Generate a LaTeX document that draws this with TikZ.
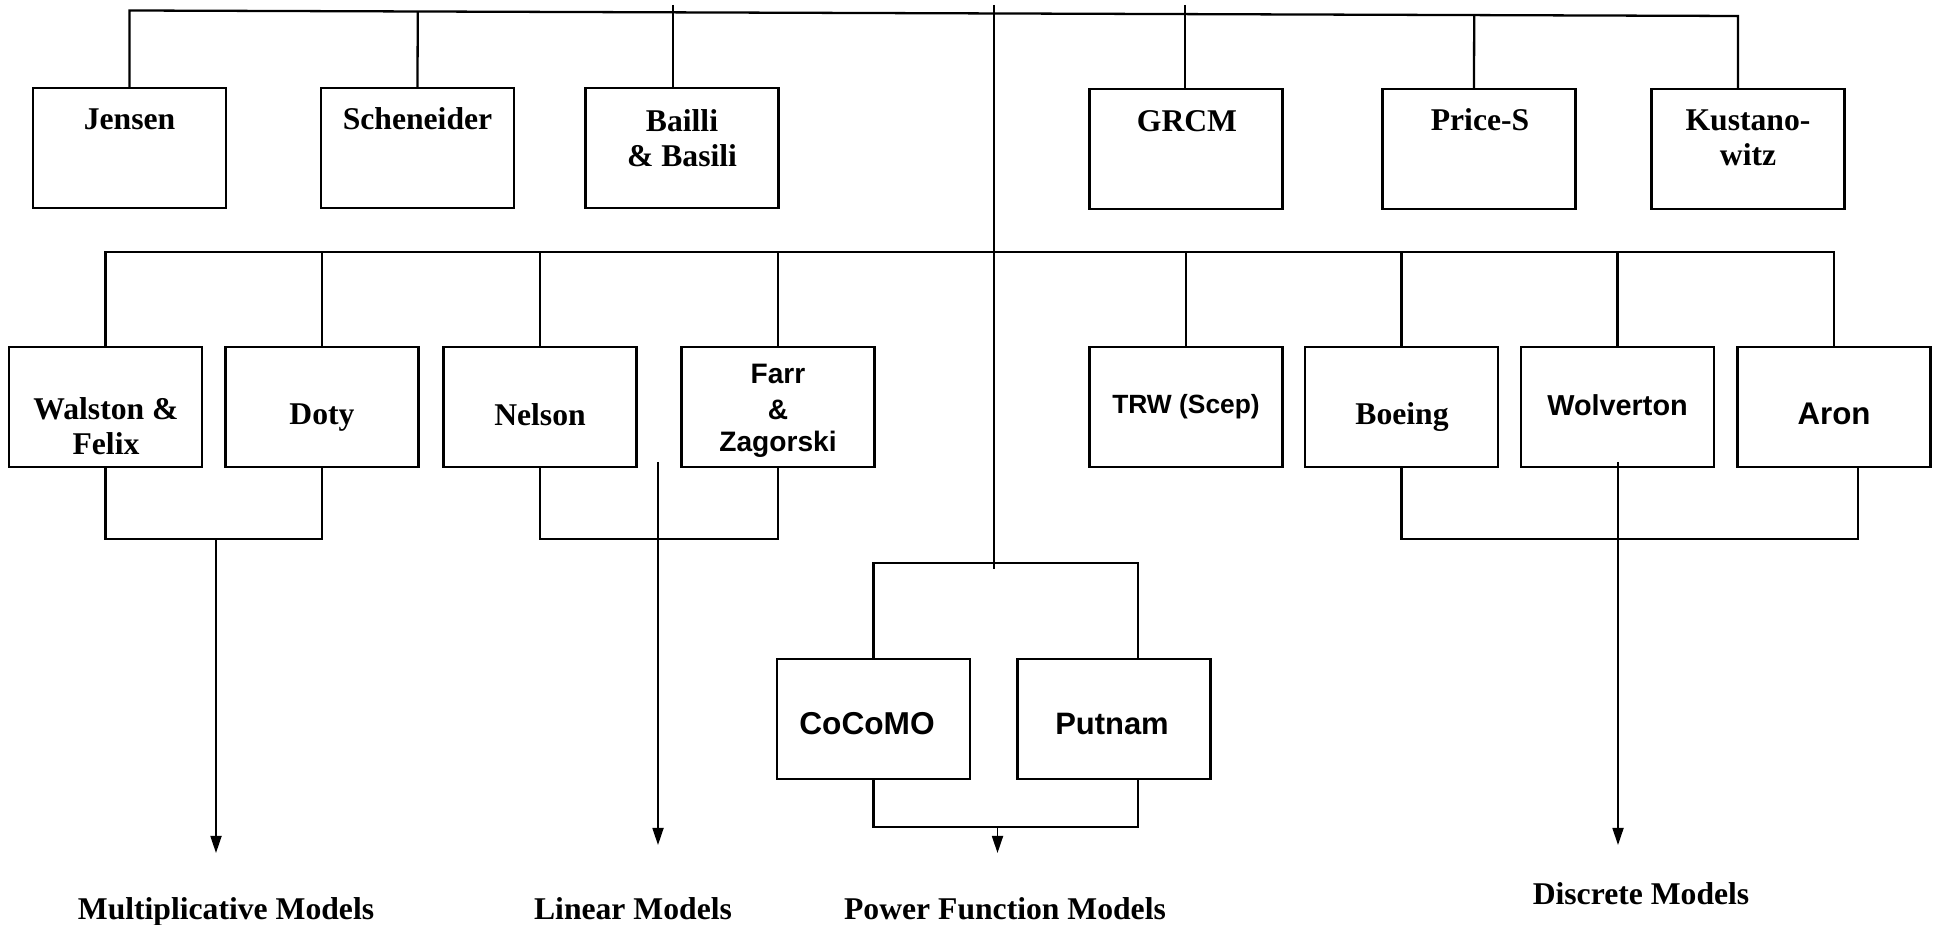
\documentclass[tikz,border=0pt]{standalone}
\usepackage{fontspec}
\setmainfont{Liberation Serif}
\newfontfamily\arial{Liberation Sans}
\usetikzlibrary{calc,arrows.meta}
\begin{document}
\begin{tikzpicture}[x=0.01cm,y=-0.01cm,
  box/.style={draw, line width=0.7pt, minimum width=1.93cm, minimum height=1.2cm, inner sep=0pt, outer sep=0pt},
  conn/.style={line width=0.65pt},
  thinline/.style={line width=0.45pt},
  arr/.style={line width=0.5pt, -{Triangle[length=0.17cm,width=0.11cm]}},
  tms/.style={font=\bfseries\fontsize{9}{11}\selectfont, inner sep=0pt, anchor=base},
  ar/.style={font=\arial\bfseries\fontsize{#1}{#1}\selectfont, inner sep=0pt, anchor=base}]
\fill[white] (0,0) rectangle (1937,925);
\useasboundingbox (0,0) rectangle (1937,925);

% top row boxes
\node[box] (jensen) at (129.5,148) {};
\node[box] (schen)  at (417.5,148) {};
\node[box] (bailli) at (682,148) {};
\node[box] (grcm)   at (1186,149) {};
\node[box] (price)  at (1479,149) {};
\node[box] (kust)   at (1748,149) {};

% second row boxes
\node[box] (walston) at (105.5,407) {};
\node[box] (doty)    at (322,407) {};
\node[box] (nelson)  at (540,407) {};
\node[box] (farr)    at (778,407) {};
\node[box] (trw)     at (1186,407) {};
\node[box] (boeing)  at (1401.5,407) {};
\node[box] (wolv)    at (1617.5,407) {};
\node[box] (aron)    at (1834,407) {};

% power function boxes
\node[box] (cocomo) at (873.5,719) {};
\node[box] (putnam) at (1114,719) {};

% texts
\node[tms] (tJensen) at (129.5,130) {Jensen};
\node[tms] (tSchen) at (417.5,130) {Scheneider};
\node[tms] (tBailliA) at (682,132) {Bailli};
\node[tms] (tBailliB) at (682,167) {\& Basili};
\node[tms] (tGrcm) at (1187,132) {GRCM};
\node[tms] (tPrice) at (1480,131) {Price-S};
\node[tms] (tKustA) at (1748,131) {Kustano-};
\node[tms] (tKustB) at (1748,166) {witz};

\node[tms] (tWalA) at (106,420) {Walston \&};
\node[tms] (tWalB) at (106,455) {Felix};
\node[tms] (tDoty) at (322,425) {Doty};
\node[tms] (tNelson) at (540,426) {Nelson};
\node[ar=8] (tFarrA) at (778,384) {Farr};
\node[ar=8] (tFarrB) at (778,420) {\&};
\node[ar=8] (tFarrC) at (778,452) {Zagorski};
\node[ar=7.5] (tTrw) at (1186,414) {TRW (Scep)};
\node[tms] (tBoeing) at (1402,425) {Boeing};
\node[ar=8.2] (tWolv) at (1617.5,416) {Wolverton};
\node[ar=8.9] (tAron) at (1834,425) {Aron};
\node[ar=9] (tCocomo) at (867,734) {CoCoMO};
\node[ar=8.8] (tPutnam) at (1112,734) {Putnam};

\node[tms] (lMult) at (226,919) {Multiplicative Models};
\node[tms] (lLin) at (633,919) {Linear Models};
\node[tms] (lPow) at (1005,919) {Power Function Models};
\node[tms] (lDisc) at (1641,904) {Discrete Models};

% top bar
\coordinate (tl) at (130,10.5);
\coordinate (tr) at (1738,16);
\draw[conn] (jensen.north) -- (jensen.north |- tl) -- (tr) -- (tr |- kust.north);
\draw[conn] (schen.north) -- ($(tl)!(schen.north)!(tr)$);
\draw[conn] ([xshift=-0.05cm]price.north) -- ($(tl)!([xshift=-0.05cm]price.north)!(tr)$);
\coordinate (btop) at (673,5);
\coordinate (gtop) at (1185,5);
\draw[conn] (btop) -- (btop |- bailli.north);
\draw[conn] (gtop) -- (gtop |- grcm.north);

% central trunk
\coordinate (ctop) at (994,5);
\coordinate (cbot) at (994,569);
\draw[thinline] (ctop) -- (cbot);

% second bar
\coordinate (h2l) at (105.5,252);
\coordinate (h2r) at (1834,252);
\draw[conn] (walston.north) -- (h2l) -- (h2r) -- (aron.north);
\foreach \n in {doty,nelson,farr,trw,boeing,wolv}
  \draw[conn] (\n.north) -- (\n.north |- h2l);

% bottom brackets
\coordinate (brk) at (0,539);
\draw[conn] (walston.south) -- (walston.south |- brk) -- (doty.south |- brk) -- (doty.south);
\draw[conn] (nelson.south) -- (nelson.south |- brk) -- (farr.south |- brk) -- (farr.south);
\coordinate (aronb) at (1858,467);
\draw[conn] (boeing.south) -- (boeing.south |- brk) -- (aronb |- brk) -- (aronb);

% arrows to model labels
\coordinate (multS) at (216,539);
\coordinate (multE) at (216,853);
\draw[arr] (multS) -- (multE);
\coordinate (linS) at (658,462);
\coordinate (linE) at (658,845);
\draw[arr] (linS) -- (linE);
\coordinate (discS) at (1618,462);
\coordinate (discE) at (1618,845);
\draw[arr] (discS) -- (discE);

% power function bracket
\coordinate (pt) at (0,563);
\coordinate (pr) at (1138,659);
\draw[conn] (cocomo.north) -- (cocomo.north |- pt) -- (pr |- pt) -- (pr);
\coordinate (pb) at (0,827);
\coordinate (prb) at (1138,779);
\draw[conn] (cocomo.south) -- (cocomo.south |- pb) -- (prb |- pb) -- (prb);
\coordinate (powS) at (997.5,827);
\coordinate (powE) at (997.5,853);
\draw[arr] (powS) -- (powE);
\end{tikzpicture}
\end{document}
